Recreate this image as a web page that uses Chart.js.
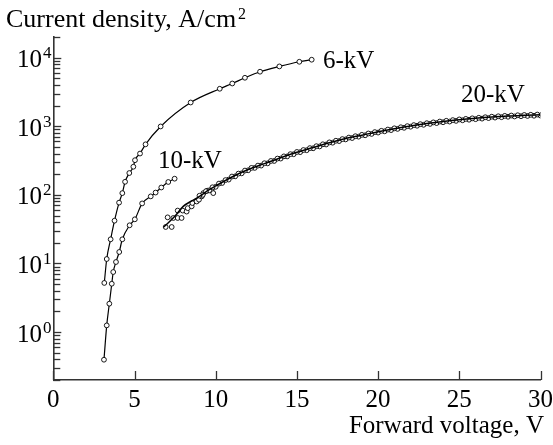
<!DOCTYPE html>
<html>
<head>
<meta charset="utf-8">
<script src="https://cdn.jsdelivr.net/npm/chart.js@4.4.0/dist/chart.umd.min.js"></script>
<style>
  html, body { margin: 0; padding: 0; background: #fff; }
  #jvChart { display: block; }
</style>
</head>
<body>
<canvas id="jvChart" width="553" height="445"></canvas>
<script>
// forward J-V curves of the 6, 10 and 20 kV diodes
const volts6 = [3.14, 3.29, 3.53, 3.77, 4.05, 4.25, 4.42, 4.68, 4.93, 5.03, 5.34, 5.68, 6.61, 8.46, 10.25, 11.02, 11.80, 12.73, 13.92, 15.15, 15.91];
const current6 = [5.2, 11.6, 22.5, 42, 77, 106, 155, 208, 257, 320, 400, 545, 993, 2220, 3520, 4200, 5090, 6240, 7450, 8710, 9330];

const volts10 = [3.12, 3.29, 3.45, 3.60, 3.69, 3.86, 4.06, 4.25, 4.70, 5.02, 5.47, 6.00, 6.30, 6.65, 7.08, 7.47];
const current10 = [0.395, 1.25, 2.59, 5.06, 7.5, 10.5, 14.7, 22.5, 36, 44, 75, 95, 108, 128, 154, 172];

// 20 kV: smooth curve plus two measured sweeps
const volts20Fit = [6.8, 7.5, 8, 8.5, 9, 9.5, 10, 11, 12, 13, 14, 15, 16, 17, 18, 19, 20, 21, 22, 23, 24, 25, 26, 27, 28, 29, 30];
const current20Fit = [34, 49, 68, 81, 95, 115, 135, 182, 234, 285, 347, 417, 490, 575, 661, 741, 832, 923, 1012, 1096, 1175, 1245, 1303, 1365, 1413, 1445, 1472];

const volts20Early = [6.92, 7.04, 7.29, 7.39, 7.66, 7.66, 7.90, 7.97, 8.21, 8.28, 8.52, 8.56, 8.83, 8.97, 9.14, 9.24, 9.48, 9.75, 9.85];
const current20Early = [34, 47, 34, 46, 46, 59, 46, 59, 57, 64, 68, 76, 80, 85, 95, 106, 115, 119, 106];

const volts20A = [9.0, 9.4, 9.8, 10.2, 10.6, 11.0, 11.4, 11.8, 12.2, 12.6, 13.0, 13.4, 13.8, 14.2, 14.6, 15.0, 15.4, 15.8, 16.2, 16.6, 17.0, 17.4, 17.8, 18.2, 18.6, 19.0, 19.4, 19.8, 20.2, 20.6, 21.0, 21.4, 21.8, 22.2, 22.6, 23.0, 23.4, 23.8, 24.2, 24.6, 25.0, 25.4, 25.8, 26.2, 26.6, 27.0, 27.4, 27.8, 28.2, 28.6, 29.0, 29.4, 29.8, 30.1];
const current20A = [97, 113, 129, 146, 164, 185, 204, 226, 247, 267, 289, 312, 338, 364, 392, 422, 450, 480, 512, 546, 582, 615, 650, 684, 716, 750, 785, 822, 858, 895, 933, 967, 1004, 1039, 1073, 1108, 1139, 1171, 1201, 1229, 1258, 1281, 1305, 1329, 1354, 1379, 1398, 1417, 1433, 1447, 1460, 1470, 1481, 1486];

const volts20B = [9.2, 9.6, 10.0, 10.4, 10.8, 11.2, 11.6, 12.0, 12.4, 12.8, 13.2, 13.6, 14.0, 14.4, 14.8, 15.2, 15.6, 16.0, 16.4, 16.8, 17.2, 17.6, 18.0, 18.4, 18.8, 19.2, 19.6, 20.0, 20.4, 20.8, 21.2, 21.6, 22.0, 22.4, 22.8, 23.2, 23.6, 24.0, 24.4, 24.8, 25.2, 25.6, 26.0, 26.4, 26.8, 27.2, 27.6, 28.0, 28.4, 28.8, 29.2, 29.6, 30.0];
const current20B = [100, 116, 131, 149, 167, 186, 206, 228, 247, 267, 288, 312, 338, 363, 391, 419, 447, 477, 508, 542, 576, 608, 643, 673, 705, 738, 773, 809, 844, 879, 915, 949, 985, 1017, 1050, 1082, 1112, 1143, 1170, 1197, 1222, 1245, 1268, 1291, 1315, 1337, 1355, 1375, 1388, 1400, 1413, 1422, 1432];

const seriesNames = ["6-kV", "10-kV", "20-kV"];
const xTicks = [0, 5, 10, 15, 20, 25, 30];
const yDecades = [0, 1, 2, 3, 4];

const serif = "'Liberation Serif', 'Times New Roman', serif";
const ink = "#000";
const axisInk = "#333";

const toPoints = (xs, ys) => xs.map((v, i) => ({ x: v, y: ys[i] }));

const markerStyle = {
    pointRadius: 2.4,
    pointBorderWidth: 0.9,
    pointBorderColor: ink,
    pointBackgroundColor: "#fff",
    pointHoverRadius: 2.4,
};

// where the curve names sit, in data units (left edge / baseline)
const namePlaces = [
    { v: 16.6, j: 7100 },
    { v: 6.45, j: 248 },
    { v: 25.1, j: 2275 },
];

const axisDecor = {
    id: "axisDecor",
    afterDraw(chart) {
        const { ctx, chartArea: area, scales: { x, y } } = chart;
        ctx.save();
        ctx.strokeStyle = axisInk;
        ctx.lineWidth = 1.3;

        // log ticks on the inside of the y axis
        for (let d = -1; d <= 4; d++) {
            for (let m = 1; m <= 9; m++) {
                const val = m * Math.pow(10, d);
                if (val < y.min * 0.999 || val > y.max * 1.001) continue;
                const py = Math.round(y.getPixelForValue(val)) + 0.5;
                ctx.beginPath();
                ctx.moveTo(area.left, py);
                ctx.lineTo(area.left + (m === 1 ? 8 : 7), py);
                ctx.stroke();
            }
        }

        // x ticks point up into the plot
        xTicks.forEach(v => {
            const px = Math.round(x.getPixelForValue(v)) + 0.5;
            ctx.beginPath();
            ctx.moveTo(px, area.bottom);
            ctx.lineTo(px, area.bottom - 9);
            ctx.stroke();
        });

        ctx.fillStyle = ink;
        ctx.textBaseline = "alphabetic";

        ctx.font = `25px ${serif}`;
        ctx.textAlign = "center";
        xTicks.forEach(v => {
            ctx.fillText(String(v), x.getPixelForValue(v), area.bottom + 27);
        });

        // 10^n labels with raised exponent
        yDecades.forEach(e => {
            const py = y.getPixelForValue(Math.pow(10, e));
            ctx.font = `25px ${serif}`;
            ctx.textAlign = "right";
            ctx.fillText("10", 42, py + 9.5);
            ctx.font = `17px ${serif}`;
            ctx.textAlign = "left";
            ctx.fillText(String(e), 43, py + 0.5);
        });

        // axis titles
        ctx.font = `26px ${serif}`;
        ctx.textAlign = "left";
        const yTitle = "Current density, A/cm";
        ctx.fillText(yTitle, 6, 27);
        const w = ctx.measureText(yTitle).width;
        ctx.font = `16px ${serif}`;
        ctx.fillText("2", 6 + w + 2, 19);

        ctx.font = `25px ${serif}`;
        ctx.textAlign = "right";
        ctx.fillText("Forward voltage, V", 544, 433);

        // curve names
        ctx.textAlign = "left";
        seriesNames.forEach((name, i) => {
            const p = namePlaces[i];
            ctx.fillText(name, x.getPixelForValue(p.v), y.getPixelForValue(p.j));
        });

        ctx.restore();
    }
};

new Chart(document.getElementById("jvChart"), {
    type: "line",
    data: {
        datasets: [
            {
                label: "6-kV",
                data: toPoints(volts6, current6),
                borderColor: ink,
                borderWidth: 1.2,
                cubicInterpolationMode: "monotone",
                order: 0,
                ...markerStyle,
            },
            {
                label: "10-kV",
                data: toPoints(volts10, current10),
                borderColor: ink,
                borderWidth: 1.2,
                cubicInterpolationMode: "monotone",
                order: 0,
                ...markerStyle,
            },
            {
                // fitted curve runs over the 20 kV markers
                label: "20-kV",
                data: toPoints(volts20Fit, current20Fit),
                borderColor: ink,
                borderWidth: 1.5,
                pointRadius: 0,
                cubicInterpolationMode: "monotone",
                order: 1,
            },
            {
                label: "20-kV sweep 1",
                data: toPoints(volts20A, current20A),
                showLine: false,
                order: 2,
                ...markerStyle,
            },
            {
                label: "20-kV sweep 2",
                data: toPoints(volts20B, current20B),
                showLine: false,
                order: 2,
                ...markerStyle,
            },
            {
                label: "20-kV start",
                data: toPoints(volts20Early, current20Early),
                showLine: false,
                order: 2,
                ...markerStyle,
            },
        ],
    },
    options: {
        responsive: false,
        animation: false,
        devicePixelRatio: 1,
        layout: {
            padding: { left: 0, right: 12.5, top: 37, bottom: 0 },
        },
        plugins: {
            legend: { display: false },
            tooltip: { enabled: false },
        },
        scales: {
            x: {
                type: "linear",
                min: 0,
                max: 30,
                grid: { display: false, drawTicks: false },
                border: { display: true, color: axisInk, width: 1.6 },
                ticks: { display: false },
                afterFit: (scale) => { scale.height = 65; },
            },
            y: {
                type: "logarithmic",
                min: 0.2,
                max: 20000,
                grid: { display: false, drawTicks: false },
                border: { display: true, color: axisInk, width: 1.6 },
                ticks: { display: false },
                afterFit: (scale) => { scale.width = 53.3; },
            },
        },
    },
    plugins: [axisDecor],
});
</script>
</body>
</html>
